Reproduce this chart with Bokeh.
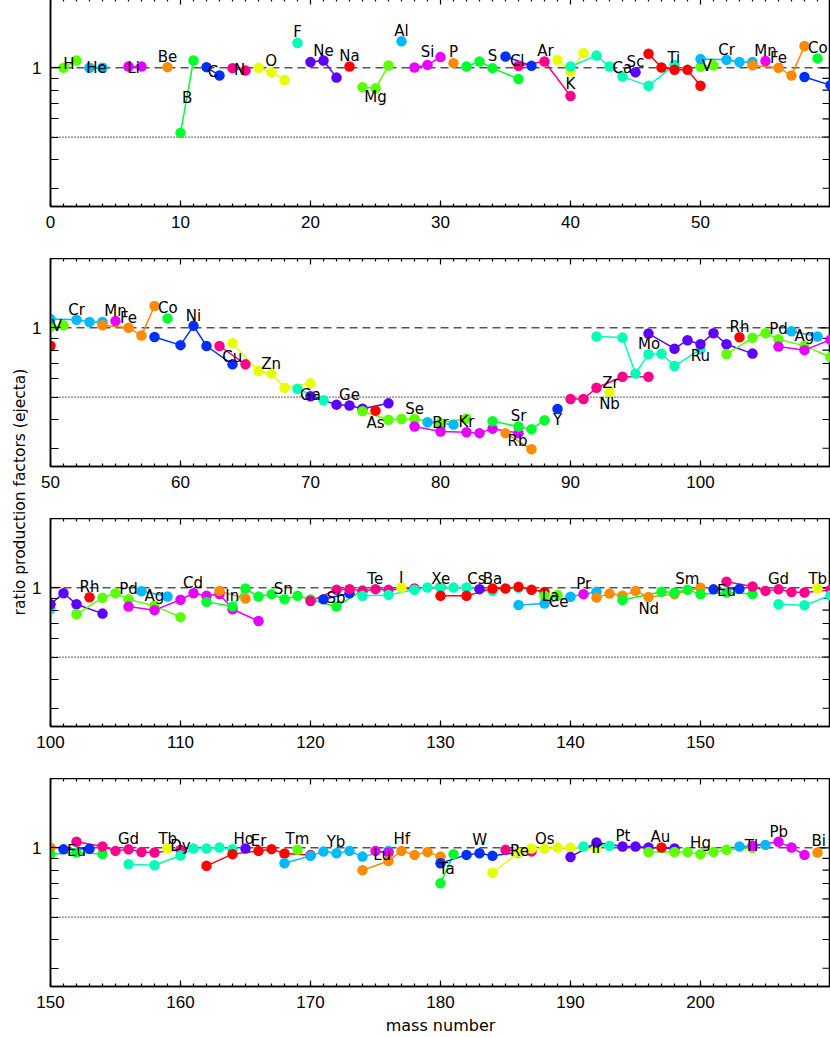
import math
from bokeh.plotting import figure
from bokeh.models import (Range1d, FixedTicker, Span, ColumnDataSource, Label, BasicTickFormatter)
from bokeh.layouts import row, column
from bokeh.embed import file_html
from bokeh.resources import INLINE
from bokeh.core.properties import value

# ---------------- data ----------------
elements = ["H", "He", "Li", "Be", "B", "C", "N", "O", "F", "Ne", "Na", "Mg", "Al", "Si", "P",
            "S", "Cl", "Ar", "K", "Ca", "Sc", "Ti", "V", "Cr", "Mn", "Fe", "Co", "Ni", "Cu", "Zn",
            "Ga", "Ge", "As", "Se", "Br", "Kr", "Rb", "Sr", "Y", "Zr", "Nb", "Mo", "Ru", "Rh",
            "Pd", "Ag", "Cd", "In", "Sn", "Sb", "Te", "I", "Xe", "Cs", "Ba", "La", "Ce", "Pr",
            "Nd", "Sm", "Eu", "Gd", "Tb", "Dy", "Ho", "Er", "Tm", "Yb", "Lu", "Hf", "Ta", "W",
            "Re", "Os", "Ir", "Pt", "Au", "Hg", "Tl", "Pb", "Bi"]

iso_mass = [
    [1, 2], [3, 4], [6, 7], [9], [10, 11], [12, 13], [14, 15], [16, 17, 18], [19],
    [20, 21, 22], [23], [24, 25, 26], [27], [28, 29, 30], [31], [32, 33, 34, 36], [35, 37],
    [36, 38, 40], [39, 40, 41], [40, 42, 43, 44, 46, 48], [45], [46, 47, 48, 49, 50], [50, 51],
    [50, 52, 53, 54], [55], [54, 56, 57, 58], [59], [58, 60, 61, 62, 64], [63, 65],
    [64, 66, 67, 68, 70], [69, 71], [70, 72, 73, 74, 76], [75], [74, 76, 77, 78, 80, 82],
    [79, 81], [78, 80, 82, 83, 84, 86], [85, 87], [84, 86, 87, 88], [89], [90, 91, 92, 94, 96],
    [93], [92, 94, 95, 96, 97, 98, 100], [96, 98, 99, 100, 101, 102, 104], [103],
    [102, 104, 105, 106, 108, 110], [107, 109], [106, 108, 110, 111, 112, 113, 114, 116],
    [113, 115], [112, 114, 115, 116, 117, 118, 119, 120, 122, 124], [121, 123],
    [120, 122, 123, 124, 125, 126, 128, 130], [127], [124, 126, 128, 129, 130, 131, 132, 134, 136],
    [133], [130, 132, 134, 135, 136, 137, 138], [138, 139], [136, 138, 140, 142], [141],
    [142, 143, 144, 145, 146, 148, 150], [144, 147, 148, 149, 150, 152, 154], [151, 153],
    [152, 154, 155, 156, 157, 158, 160], [159], [156, 158, 160, 161, 162, 163, 164], [165],
    [162, 164, 166, 167, 168, 170], [169], [168, 170, 171, 172, 173, 174, 176], [175, 176],
    [174, 176, 177, 178, 179, 180], [180, 181], [180, 182, 183, 184, 186], [185, 187],
    [184, 186, 187, 188, 189, 190, 192], [191, 193], [190, 192, 194, 195, 196, 198], [197],
    [196, 198, 199, 200, 201, 202, 204], [203, 205], [204, 206, 207, 208], [209],
]

iso_ratio = [
    [1.000, 1.076], [1.000, 1.000], [1.013, 1.013], [1.007], [0.522, 1.076], [1.007, 0.926],
    [0.997, 0.973], [1.000, 0.957, 0.886], [1.282], [1.059, 1.076, 0.907], [1.013],
    [0.823, 0.815, 1.024], [1.303], [1.003, 1.030, 1.113], [1.048], [1.013, 1.065, 0.997, 0.895],
    [1.120, 1.020], [1.020, 1.065, 0.755], [1.084, 0.963, 1.159],
    [1.013, 1.130, 1.013, 0.916, 0.835, 1.030], [0.957], [1.151, 1.003, 0.980, 0.980, 0.836],
    [1.010, 1.025], [1.091, 1.084, 1.060, 1.060], [1.070], [1.025, 1.000, 0.927, 1.243],
    [1.099], [0.912, 0.841, 1.020, 0.834, 0.694], [0.834, 0.694],
    [0.858, 0.649, 0.634, 0.549, 0.574], [0.544, 0.485], [0.505, 0.464, 0.460, 0.445, 0.470],
    [0.437], [0.434, 0.399, 0.402, 0.402, 0.386, 0.404], [0.389, 0.380],
    [0.373, 0.355, 0.352, 0.349, 0.365, 0.349], [0.349, 0.297], [0.393, 0.373, 0.363, 0.397],
    [0.444], [0.491, 0.491, 0.549, 0.613, 0.613], [0.526],
    [0.917, 0.907, 0.634, 0.768, 0.772, 0.683, 0.807],
    [0.944, 0.812, 0.884, 0.849, 0.948, 0.849, 0.773], [0.910],
    [0.768, 0.905, 0.948, 0.892, 0.835, 0.746], [0.967, 0.917],
    [0.829, 0.800, 0.888, 0.948, 0.923, 0.940, 0.807, 0.718], [0.970, 0.898],
    [0.869, 0.829, 0.993, 0.916, 0.939, 0.892, 0.923, 0.890, 0.829, 0.975], [0.892, 0.948],
    [0.877, 0.980, 0.987, 0.970, 0.987, 0.980, 0.993, 1.005], [1.003],
    [0.923, 0.932, 0.980, 1.003, 1.003, 1.003, 1.003, 0.970, 1.000], [0.987],
    [0.923, 0.923, 0.993, 0.993, 1.010, 0.980, 0.960], [0.923, 0.932],
    [0.843, 0.854, 0.915, 0.961], [0.939], [0.907, 0.944, 0.923, 0.970, 0.913, 0.939, 1.000],
    [0.886, 0.961, 0.955, 0.980, 0.939, 0.954, 0.940], [0.985, 0.990],
    [1.062, 1.013, 0.970, 0.985, 0.960, 0.954, 0.980], [0.993],
    [0.849, 0.840, 0.926, 0.993, 0.993, 1.003, 0.985], [0.993],
    [0.835, 0.939, 0.970, 0.987, 0.945, 0.930], [0.980],
    [0.857, 0.923, 0.963, 0.948, 0.970, 0.916, 0.970], [0.970, 0.955],
    [0.799, 0.877, 0.970, 0.932, 0.960, 0.916], [0.701, 0.939],
    [0.857, 0.932, 0.948, 0.923, 0.955], [0.980, 0.965],
    [0.780, 0.954, 0.993, 0.993, 1.003, 1.000, 0.993], [1.013, 1.020],
    [0.913, 1.055, 1.013, 1.013, 1.003, 0.993], [1.003],
    [0.960, 0.960, 0.960, 0.939, 0.960, 0.980, 1.000], [1.013, 1.030],
    [1.020, 1.062, 1.003, 0.932], [0.954],
]

# where each element symbol is written (mass, ratio of the text centre)
label_mass = [1.42, 3.54, 6.38, 9.0, 10.52, 12.5, 14.54, 16.98, 19.0, 21.0, 23.0, 25.0, 27.0,
              29.0, 31.0, 34.0, 35.9, 38.08, 40.0, 43.98, 45.0, 47.95, 50.5, 52.0, 55.0, 56.0,
              59.02, 61.0, 63.98, 66.98, 70.0, 73.0, 75.0, 78.0, 80.0, 82.0, 85.92, 86.0, 89.0,
              93.08, 93.0, 96.05, 100.0, 103.0, 106.0, 108.0, 110.96, 113.98, 117.9, 121.96,
              124.98, 126.98, 130.02, 132.77, 134.0, 138.46, 139.08, 141.02, 146.02, 148.98,
              152.0, 156.0, 159.02, 160.0, 164.87, 166.0, 169.0, 171.96, 175.51, 177.02,
              180.48, 183.02, 186.08, 188.02, 192.02, 194.04, 196.92, 200.0, 203.92, 206.02,
              209.1]
label_ratio = [1.041, 0.995, 0.995, 1.111, 0.736, 0.963, 0.980, 1.075, 1.436, 1.189, 1.130,
               0.745, 1.451, 1.169, 1.175, 1.120, 1.075, 1.186, 0.854, 1.002, 1.065, 1.102,
               1.022, 1.200, 1.180, 1.107, 1.221, 1.128, 0.747, 0.700, 0.510, 0.513, 0.386,
               0.443, 0.385, 0.390, 0.321, 0.413, 0.397, 0.575, 0.466, 0.849, 0.755, 1.005,
               0.988, 0.920, 1.051, 0.923, 0.990, 0.907, 1.095, 1.106, 1.087, 1.095, 1.091,
               0.923, 0.869, 1.036, 0.810, 1.091, 0.970, 1.092, 1.092, 1.020, 1.095, 1.073,
               1.095, 1.062, 0.932, 1.095, 0.806, 1.078, 0.970, 1.095, 0.995, 1.128, 1.109,
               1.051, 1.020, 1.174, 1.073]

panel_ranges = [(0, 60), (50, 110), (100, 160), (150, 210)]
y_min, y_max = 0.25, 2.0
y_major = [1]
y_minor = [0.3, 0.4, 0.5, 0.6, 0.7, 0.8, 0.9]
x_title = "mass number"
y_title = "ratio production factors (ejecta)"

# ---------------- styling ----------------
palette = ["#5DFF00", "#00B9FF", "#E800FF", "#FF8B00", "#00FF2E", "#002EFF",
           "#FF008B", "#E8FF00", "#00FFB9", "#5D00FF", "#FF0000"]
TICK_FONT = "Liberation Sans"
TEXT_FONT = "DejaVu Sans"
FRAME_H = 208
FIG_W = 802
BORDER_L = 22
FRAME_W = FIG_W - BORDER_L
PX_PER_DECADE = FRAME_H / math.log10(y_max / y_min)

line_xs, line_ys, line_c = [], [], []
pt_x, pt_y, pt_c = [], [], []
for i, el in enumerate(elements):
    c = palette[i % len(palette)]
    ms, rs = iso_mass[i], iso_ratio[i]
    if len(ms) > 1:
        line_xs.append(ms)
        line_ys.append(rs)
        line_c.append(c)
    pt_x += ms
    pt_y += rs
    pt_c += [c] * len(ms)

line_src = ColumnDataSource(dict(xs=line_xs, ys=line_ys, c=line_c))
pt_src = ColumnDataSource(dict(x=pt_x, y=pt_y, c=pt_c))


def make_panel(x0, x1, bottom, last=False):
    p = figure(width=FIG_W, height=FRAME_H + bottom,
               x_range=Range1d(x0, x1), y_range=Range1d(y_min, y_max),
               y_axis_type="log", output_backend="svg", toolbar_location=None,
               min_border_left=BORDER_L, min_border_right=0, min_border_top=0,
               min_border_bottom=bottom)
    p.grid.visible = False
    p.outline_line_color = "black"
    p.outline_line_width = 1.5
    p.background_fill_color = "white"
    p.border_fill_color = "white"

    xa = p.xaxis[0]
    xa.ticker = FixedTicker(ticks=list(range(x0, x1, 10)), minor_ticks=list(range(x0, x1 + 1)))
    xa.major_tick_in = 6
    xa.major_tick_out = 0
    xa.minor_tick_in = 3
    xa.minor_tick_out = 0
    xa.axis_line_width = 1.5
    xa.major_tick_line_width = 1.2
    xa.minor_tick_line_width = 1.2
    xa.major_label_standoff = 9
    xa.major_label_text_font = TICK_FONT
    xa.major_label_text_font_size = "17px"
    xa.major_label_text_color = "black"
    if last:
        xa.axis_label = x_title
        xa.axis_label_text_font = TEXT_FONT
        xa.axis_label_text_font_size = "16px"
        xa.axis_label_text_font_style = "normal"
        xa.axis_label_text_color = "black"
        xa.axis_label_standoff = 5

    ya = p.yaxis[0]
    ya.ticker = FixedTicker(ticks=y_major, minor_ticks=y_minor)
    ya.formatter = BasicTickFormatter()
    ya.major_tick_in = 10
    ya.major_tick_out = 0
    ya.minor_tick_in = 8
    ya.minor_tick_out = 0
    ya.axis_line_width = 1.5
    ya.major_tick_line_width = 1.2
    ya.minor_tick_line_width = 1.2
    ya.major_label_standoff = 9
    ya.major_label_text_font = TICK_FONT
    ya.major_label_text_font_size = "17px"
    ya.major_label_text_color = "black"

    # tick marks on the top and right edges of the frame (inward), like the axes
    tx = list(range(x0, x1 + 1))
    tlen = [6 if (m % 10 == 0) else 3 for m in tx]
    p.segment(x0=tx, y0=[y_max] * len(tx), x1=tx,
              y1=[y_max / 10 ** (L / PX_PER_DECADE) for L in tlen],
              line_color="black", line_width=1.2)
    ry = y_major + y_minor
    rlen = [10] * len(y_major) + [8] * len(y_minor)
    upx = (x1 - x0) / FRAME_W
    p.segment(x0=[x1] * len(ry), y0=ry, x1=[x1 - L * upx for L in rlen], y1=ry,
              line_color="black", line_width=1.2)

    p.add_layout(Span(location=1.0, dimension="width", line_color="black", line_width=1,
                      line_dash="8 5", level="underlay"))
    p.add_layout(Span(location=0.5, dimension="width", line_color="black", line_width=1.2,
                      line_dash="1 2", level="underlay"))

    p.multi_line(xs="xs", ys="ys", line_color="c", line_width=1.5, source=line_src)
    p.scatter(x="x", y="y", size=10.5, fill_color="c", line_color=None, source=pt_src)

    lx, ly, lt = [], [], []
    for el, m, r in zip(elements, label_mass, label_ratio):
        if x0 < m < x1 - 0.5:
            lx.append(m)
            ly.append(r)
            lt.append(el)
    p.text(x="x", y="y", text="t", source=ColumnDataSource(dict(x=lx, y=ly, t=lt)),
           text_font=value(TEXT_FONT), text_font_size="15px", text_align="center",
           text_baseline="middle", text_color="black")
    return p


panels = []
for k, (x0, x1) in enumerate(panel_ranges):
    last = k == len(panel_ranges) - 1
    panels.append(make_panel(x0, x1, 51 if last else 52, last))

H_TOTAL = sum(p.height for p in panels)
yl = figure(width=20, height=H_TOTAL, x_range=Range1d(0, 20), y_range=Range1d(0, H_TOTAL),
            output_backend="svg", toolbar_location=None, min_border=0,
            x_axis_location=None, y_axis_location=None)
yl.outline_line_color = None
yl.grid.visible = False
yl.add_layout(Label(x=11, y=H_TOTAL - 493.5, text=y_title, angle=math.pi / 2,
                    text_align="center", text_baseline="alphabetic",
                    text_font=TEXT_FONT, text_font_size="15.5px", text_color="black"))

layout = row(yl, column(*panels), styles={"margin-top": "-2px", "margin-left": "8px"})

open("out.html", "w").write(file_html(layout, INLINE))
